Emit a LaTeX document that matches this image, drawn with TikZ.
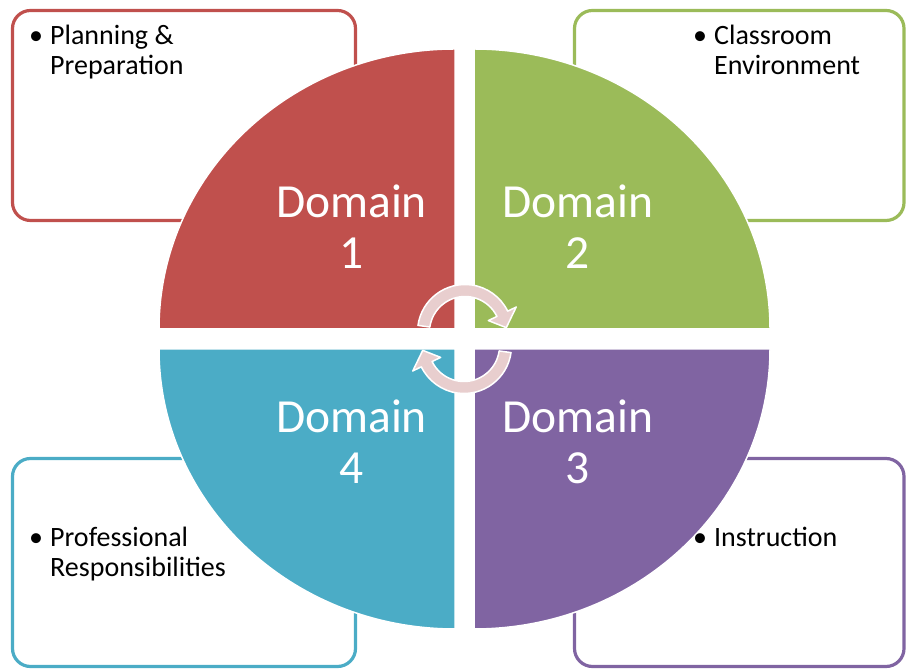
\documentclass[tikz,border=0pt]{standalone}
\usepackage{fontspec}
\setmainfont{Carlito}
\definecolor{dred}{HTML}{C0504D}
\definecolor{dgreen}{HTML}{9BBB59}
\definecolor{dpurple}{HTML}{8064A2}
\definecolor{dblue}{HTML}{4BACC6}
\definecolor{arrowpink}{RGB}{232,206,206}
\newcommand{\cycarrow}{%
  \path[cyc] (172:47.5bp) arc[start angle=172,end angle=26,radius=47.5bp]
    -- (26:57bp) -- (6:41.5bp) -- (26:26bp) -- (26:35.5bp)
    arc[start angle=26,end angle=172,radius=35.5bp] -- cycle;}
\begin{document}
\begin{tikzpicture}[x=1bp,y=1bp,
  box/.style={line width=3.2bp, rounded corners=18bp, anchor=south west, inner sep=0, outer sep=0},
  quad/.style={draw=white, line width=1.5bp},
  dom/.style={text=white, font=\fontsize{47.5bp}{51bp}\selectfont, inner sep=0, anchor=base},
  item/.style={text=black, font=\fontsize{28bp}{30bp}\selectfont, inner sep=0, anchor=base west},
  cyc/.style={fill=arrowpink, draw=white, line width=1.5bp, line join=round}]
\useasboundingbox (0,0) rectangle (906,670);
% outer boxes
\node[box, draw=dred, minimum width=343bp, minimum height=210bp] (b1) at (12.5,449.5) {};
\node[box, draw=dgreen, minimum width=329.5bp, minimum height=210bp] (b2) at (574.5,449.5) {};
\node[box, draw=dpurple, minimum width=329.5bp, minimum height=208bp] (b3) at (574.5,3.5) {};
\node[box, draw=dblue, minimum width=343bp, minimum height=208bp] (b4) at (12.5,3.5) {};
% quadrants
\path[quad, fill=dred] (455,341) -- (159,341) arc[start angle=180,end angle=90,x radius=296bp,y radius=280bp] -- cycle;
\path[quad, fill=dgreen] (474,341) -- (474,621) arc[start angle=90,end angle=0,x radius=296bp,y radius=280bp] -- cycle;
\path[quad, fill=dpurple] (474,321) -- (770,321) arc[start angle=0,end angle=-90,x radius=296bp,y radius=280bp] -- cycle;
\path[quad, fill=dblue] (455,321) -- (455,41) arc[start angle=270,end angle=180,x radius=296bp,y radius=280bp] -- cycle;
% circular arrows
\begin{scope}[shift={(465,338)}]\cycarrow\end{scope}
\begin{scope}[shift={(464,324)},rotate=180]\cycarrow\end{scope}
% domain labels
\node[dom] (d1) at (351.5,452) {\begin{tabular}[t]{@{}c@{}}Domain\\1\end{tabular}};
\node[dom] (d2) at (578,452) {\begin{tabular}[t]{@{}c@{}}Domain\\2\end{tabular}};
\node[dom] (d3) at (578,237) {\begin{tabular}[t]{@{}c@{}}Domain\\3\end{tabular}};
\node[dom] (d4) at (351.5,237) {\begin{tabular}[t]{@{}c@{}}Domain\\4\end{tabular}};
% bullet texts
\node[item] (t1) at (29,625) {\begin{tabular}[t]{@{}l@{}l@{}}\makebox[21bp][l]{•}&Planning \&\\&Preparation\end{tabular}};
\node[item] (t2) at (693,625) {\begin{tabular}[t]{@{}l@{}l@{}}\makebox[21bp][l]{•}&Classroom\\&Environment\end{tabular}};
\node[item] (t3) at (693,123) {\begin{tabular}[t]{@{}l@{}l@{}}\makebox[21bp][l]{•}&Instruction\end{tabular}};
\node[item] (t4) at (29,123) {\begin{tabular}[t]{@{}l@{}l@{}}\makebox[21bp][l]{•}&Professional\\&Responsibilities\end{tabular}};
\end{tikzpicture}
\end{document}
